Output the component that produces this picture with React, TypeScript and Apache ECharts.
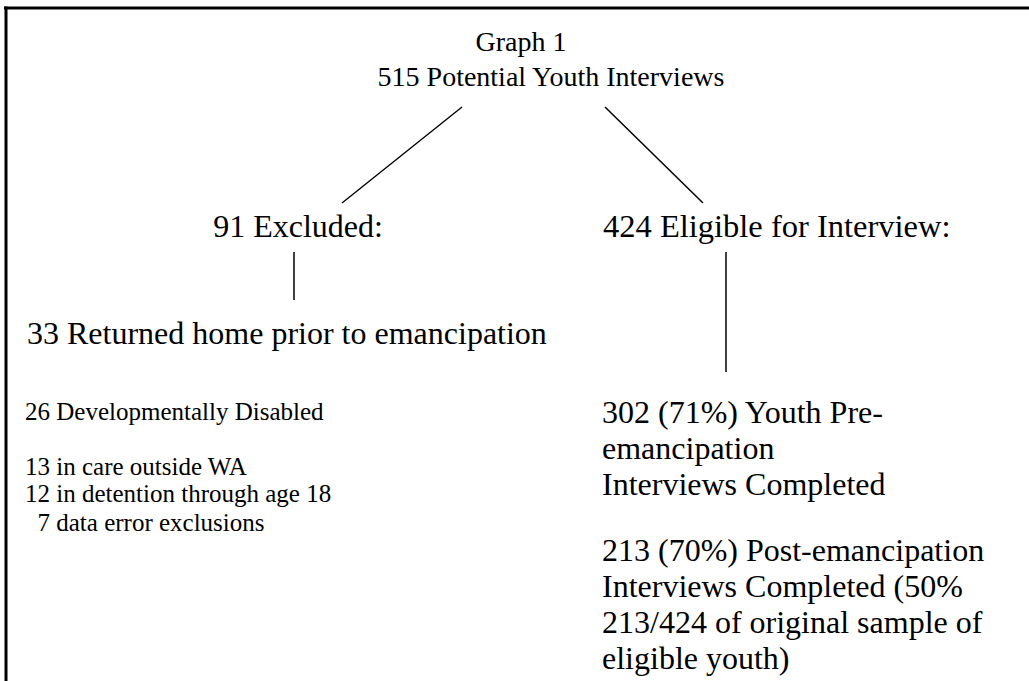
import React, { useEffect, useRef } from "react";
import * as echarts from "echarts";

// Diagram content
const titleLines = ["Graph 1", "515 Potential Youth Interviews"];
const branchLabels = ["91 Excluded:", "424 Eligible for Interview:"];
const returnedHome = "33 Returned home prior to emancipation";
const exclusionLines = [
  "26 Developmentally Disabled",
  "13 in care outside WA",
  "12 in detention through age 18",
  "  7 data error exclusions",
];
const preInterview = ["302 (71%) Youth Pre-", "emancipation", "Interviews Completed"];
const postInterview = [
  "213 (70%) Post-emancipation",
  "Interviews Completed (50%",
  "213/424 of original sample of",
  "eligible youth)",
];

const FONT = '"Liberation Serif", "Times New Roman", serif';

export default function App() {
  const ref = useRef<HTMLDivElement>(null);
  useEffect(() => {
    if (!ref.current) return;
    const chart = echarts.init(ref.current, null, { renderer: "svg" });
    const txt = (s: string, x: number, y: number, size: number, align = "left") => ({
      type: "text",
      x,
      y,
      style: {
        text: s,
        fill: "#000",
        font: `${size}px ${FONT}`,
        textAlign: align,
        textVerticalAlign: "middle",
      },
    });
    const ln = (x1: number, y1: number, x2: number, y2: number, w = 1.5) => ({
      type: "line",
      shape: { x1, y1, x2, y2 },
      style: { stroke: "#000", lineWidth: w },
    });
    const elements: any[] = [];
    // frame
    elements.push(ln(4, 8, 1029, 8, 3));
    elements.push(ln(6, 6.5, 6, 681, 3));
    // title
    elements.push(txt(titleLines[0], 521, 41, 28, "center"));
    elements.push(txt(titleLines[1], 551, 76, 28, "center"));
    // connectors
    elements.push(ln(462, 107, 342, 203));
    elements.push(ln(605, 107, 703, 203));
    elements.push(ln(294, 252, 294, 300));
    elements.push(ln(726, 252, 726, 372));
    // branches
    elements.push(txt(branchLabels[0], 298, 226, 32, "center"));
    elements.push(txt(branchLabels[1], 603, 226, 32.5, "left"));
    elements.push(txt(returnedHome, 27, 333, 32));
    const exY = [411, 466, 493, 522];
    exclusionLines.forEach((s, i) => elements.push(txt(s, 25, exY[i], 25)));
    preInterview.forEach((s, i) => elements.push(txt(s, 602, 412 + i * 36, 32)));
    postInterview.forEach((s, i) => elements.push(txt(s, 602, 550 + i * 36, 32)));

    chart.setOption({
      animation: false,
      backgroundColor: "#fff",
      graphic: { elements },
    });
    return () => chart.dispose();
  }, []);
  return (
    <div
      ref={ref}
      style={{ position: "fixed", left: 0, top: 0, width: 1029, height: 681 }}
    />
  );
}
